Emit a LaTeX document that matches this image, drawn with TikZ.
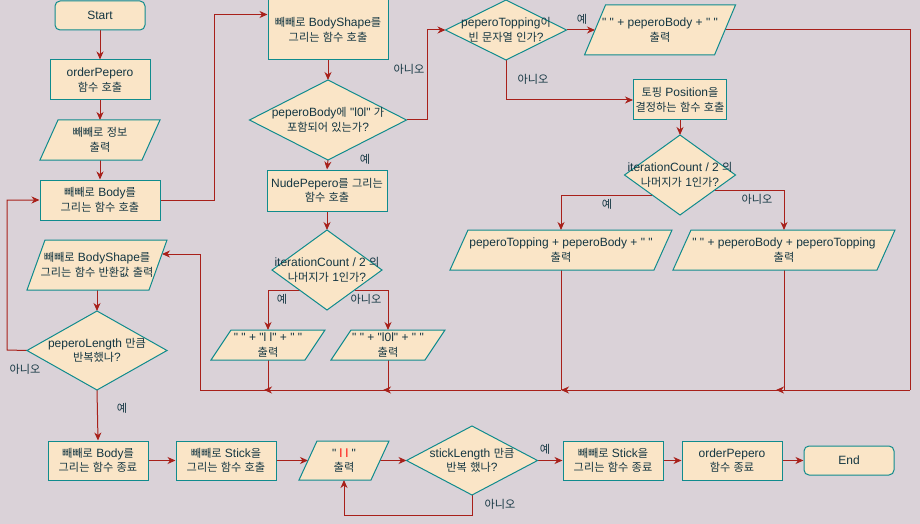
\documentclass[tikz,border=0pt]{standalone}
\usepackage{fontspec}
\setmainfont{Liberation Sans}[Ligatures=TeXOff]
\newfontfamily\krf{Noto Sans CJK KR}[Scale=0.93]
\XeTeXinterchartokenstate=1
\newXeTeXintercharclass\krclass
\count255="AC00
\loop \XeTeXcharclass\count255=\krclass \advance\count255 by 1 \ifnum\count255<"D7A4 \repeat
\XeTeXinterchartoks 0 \krclass = {\krf}
\XeTeXinterchartoks 4095 \krclass = {\krf}
\XeTeXinterchartoks \krclass 0 = {\rmfamily}
\XeTeXinterchartoks \krclass 4095 = {\rmfamily}
\XeTeXinterchartoks 4095 0 = {\rmfamily}
\usetikzlibrary{calc,arrows.meta}
\definecolor{bgc}{HTML}{DAD2D8}
\definecolor{fillc}{HTML}{FAE5C7}
\definecolor{strokec}{HTML}{0F8B8D}
\definecolor{txtc}{HTML}{143642}
\definecolor{edgec}{HTML}{A8201A}
\pgfdeclarelayer{bgl}\pgfdeclarelayer{edgel}\pgfdeclarelayer{shapel}
\pgfsetlayers{bgl,edgel,shapel,main}
\tikzset{
 txt/.style={text=txtc, align=center, inner sep=0pt, font=\fontsize{12}{14.5}\selectfont},
 shp/.style={draw=strokec, fill=fillc, line width=1pt},
 boxn/.style={txt, shp, rectangle, minimum width=100, minimum height=40},
 termn/.style={boxn, rounded corners=5pt, minimum width=90, minimum height=29},
 anchorn/.style={inner sep=0pt, outer sep=0pt, draw=none, rectangle},
 edge/.style={draw=edgec, line width=1pt},
 arr/.style={edge, -{Stealth[length=8pt,width=7pt,inset=2.5pt]}},
 lbl/.style={txt},
}
\newcommand\Dia[6]{%
 \node[anchorn, minimum width=#4, minimum height=#5] (#1) at (#2,#3) {};
 \node[txt] (#1-t) at (#1.center) {#6};
 \begin{pgfonlayer}{shapel}
 \draw[shp] (#1.north) -- (#1.east) -- (#1.south) -- (#1.west) -- cycle;
 \end{pgfonlayer}}
\newcommand\Para[7]{%
 \node[anchorn, minimum width=#4-#6, minimum height=#5] (#1) at (#2,#3) {};
 \node[txt] (#1-t) at (#1.center) {#7};
 \begin{pgfonlayer}{shapel}
 \draw[shp] ($(#1.north west)+(#6/2,0)$) -- ($(#1.north east)+(#6/2,0)$) -- ($(#1.south east)-(#6/2,0)$) -- ($(#1.south west)-(#6/2,0)$) -- cycle;
 \end{pgfonlayer}}
\begin{document}
\begin{tikzpicture}[x=1pt,y=-1pt]
\useasboundingbox (0,0) rectangle (920,524);
\begin{pgfonlayer}{bgl}
\fill[bgc] (0,0) rectangle (920,524);
\end{pgfonlayer}
% left column
\node[termn] (startn) at (100,15.5) {Start};
\node[boxn] (op) at (100,80) {orderPepero\\함수 호출};
\Para{info}{100}{140}{120}{40}{18}{빼빼로 정보\\출력}
\node[boxn, minimum width=120] (body) at (100,200) {빼빼로 Body를\\그리는 함수 호출};
\Para{bso}{97}{265}{140}{50}{18}{빼빼로 BodyShape를\\그리는 함수 반환값 출력}
\Dia{d5}{97}{350.5}{140}{79}{peperoLength 만큼\\반복했나?}
% middle column
\node[boxn, minimum width=120, minimum height=60] (bs) at (328,30) {빼빼로 BodyShape를\\그리는 함수 호출};
\Dia{d1}{328}{120}{157}{80}{peperoBody에 "l0l" 가\\포함되어 있는가?}
\node[boxn, minimum width=120, minimum height=41] (nude) at (327,190.5) {NudePepero를 그리는\\함수 호출};
\Dia{d3}{327}{270}{110}{80}{iterationCount / 2 의\\나머지가 1인가?}
\Para{p1}{268}{345}{114}{30}{20}{" " + "l l" + " "\\출력}
\Para{p2}{388}{345}{114}{30}{20}{" " + "l0l" + " "\\출력}
% right column
\Dia{d2}{506}{30}{121}{60}{peperoTopping이\\빈 문자열 인가?}
\Para{p3}{660}{30}{151}{50}{21}{" " + peperoBody + " "\\출력}
\node[boxn, minimum width=93] (tp) at (680,100) {토핑 Position을\\결정하는 함수 호출};
\Dia{d4}{680}{175}{111}{80}{iterationCount / 2 의\\나머지가 1인가?}
\Para{p4}{561}{250}{222}{40}{18}{peperoTopping + peperoBody + " "\\출력}
\Para{p5}{784}{250}{222}{40}{18}{" " + peperoBody + peperoTopping\\출력}
% bottom row
\node[boxn, minimum height=39] (e1) at (98,460.5) {빼빼로 Body를\\그리는 함수 종료};
\node[boxn, minimum height=39] (s1) at (226,460.5) {빼빼로 Stick을\\그리는 함수 호출};
\Para{p6}{344}{460.5}{90}{39}{18}{" \textcolor{red}{l l} "\\출력}
\Dia{d6}{472}{460.5}{131}{69}{stickLength 만큼\\반복 했나?}
\node[boxn, minimum height=39] (e2) at (613,460.5) {빼빼로 Stick을\\그리는 함수 종료};
\node[boxn, minimum height=39] (e3) at (732,460.5) {orderPepero\\함수 종료};
\node[termn] (endn) at (849,460.5) {End};
% labels
\node[lbl] (l1) at (409,69) {아니오};
\node[lbl] (l2) at (365,159) {예};
\node[lbl] (l3) at (282,299) {예};
\node[lbl] (l4) at (366,299) {아니오};
\node[lbl] (l5) at (582,19) {예};
\node[lbl] (l6) at (533,79) {아니오};
\node[lbl] (l7) at (607,204) {예};
\node[lbl] (l8) at (757,199) {아니오};
\node[lbl] (l9) at (25,369) {아니오};
\node[lbl] (l10) at (122,408) {예};
\node[lbl] (l11) at (545,449) {예};
\node[lbl] (l12) at (500,504) {아니오};
% coordinates
\coordinate (c1) at (214,200);
\coordinate (c2) at (427,120);
\coordinate (c3) at (910,390);
\coordinate (c4) at (200,390);
\coordinate (c5) at (7,350);
\coordinate (c6) at (472,515);
\coordinate (bsoin) at (162,254);
\coordinate (v5) at (784,390);
\coordinate (v4) at (561,390);
\coordinate (v3) at (388,390);
\coordinate (v2) at (268,390);
\coordinate (t5) at (776,390);
\coordinate (t4) at (561,390);
\coordinate (t3) at (383,390);
\coordinate (t2) at (264,390);
\begin{pgfonlayer}{edgel}
\draw[arr] (startn.south) -- (op.north);
\draw[arr] (op.south) -- (info.north);
\draw[arr] (info.south) -- (body.north);
\draw[arr] (body.east) -- (c1) |- ($(bs.north west)+(0,15)$);
\draw[arr] (bs.south) -- (d1.north);
\draw[arr] (d1.south) -- (nude.north);
\draw[arr] (d1.east) -- (c2) |- (d2.west);
\draw[arr] (nude.south) -- (d3.north);
\draw[arr] ($(d3.west)!0.5!(d3.south)$) -| (p1.north);
\draw[arr] ($(d3.east)!0.5!(d3.south)$) -| (p2.north);
\draw[arr] (d2.east) -- (p3.west);
\draw[edge] (p3.east) -| (c3);
\draw[arr] (d2.south) |- (tp.west);
\draw[arr] (tp.south) -- (d4.north);
\draw[arr] ($(d4.west)!0.5!(d4.south)$) -| (p4.north);
\draw[arr] ($(d4.east)!0.375!(d4.south)$) -| (p5.north);
\draw[edge] (p5.south) -- (v5);
\draw[edge] (p4.south) -- (v4);
\draw[edge] (p2.south) -- (v3);
\draw[edge] (p1.south) -- (v2);
\draw[arr] (c3) -- (t5);
\draw[arr] (v5) -- (t4);
\draw[arr] (v4) -- (t3);
\draw[arr] (v3) -- (t2);
\draw[arr] (v2) -- (c4) |- (bsoin);
\draw[arr] (bso.south) -- (d5.north);
\draw[arr] (d5.west) -- (c5) |- (body.west);
\draw[arr] (d5.south) -- (e1.north);
\draw[arr] (e1.east) -- (s1.west);
\draw[arr] (s1.east) -- (p6.west);
\draw[arr] (p6.east) -- (d6.west);
\draw[arr] (d6.east) -- (e2.west);
\draw[arr] (e2.east) -- (e3.west);
\draw[arr] (e3.east) -- (endn.west);
\draw[arr] (d6.south) -- (c6) -| (p6.south);
\end{pgfonlayer}
\end{tikzpicture}
\end{document}
